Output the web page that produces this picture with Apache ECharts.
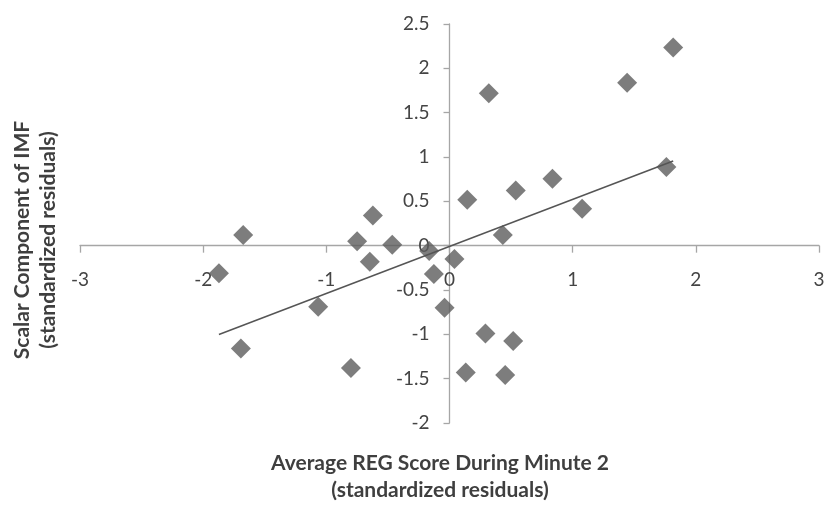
<!DOCTYPE html>
<html>
<head>
<meta charset="utf-8">
<script src="https://cdn.jsdelivr.net/npm/echarts@6/dist/echarts.min.js"></script>
<style>
  html, body { margin: 0; padding: 0; background: #fff; }
  #chart { width: 828px; height: 506px; }
</style>
</head>
<body>
<div id="chart"></div>
<script>
// Average REG score (x) vs scalar IMF component (y), standardized residuals
const regScore = [-1.675, -0.622, -0.75, -0.465, -0.165, -0.647, 0.04, -1.872, -0.127, -1.066,
  -0.04, -1.694, -0.80, 0.292, 0.517, 0.132, 0.452, 0.319, 1.442, 1.816,
  0.144, 0.538, 0.836, 1.077, 1.761, 0.433];
const imfScalar = [0.12, 0.34, 0.05, 0.01, -0.06, -0.18, -0.15, -0.31, -0.32, -0.69,
  -0.70, -1.16, -1.38, -0.99, -1.076, -1.43, -1.46, 1.718, 1.838, 2.234,
  0.517, 0.623, 0.755, 0.415, 0.887, 0.121];
const xTicks = [-3, -2, -1, 0, 1, 2, 3];
const yTicks = [-2, -1.5, -1, -0.5, 0, 0.5, 1, 1.5, 2, 2.5];

const points = regScore.map((x, i) => [x, imfScalar[i]]);

// Least-squares trend line over the range of the data
const n = regScore.length;
const mx = regScore.reduce((a, b) => a + b, 0) / n;
const my = imfScalar.reduce((a, b) => a + b, 0) / n;
let sxy = 0, sxx = 0;
for (let i = 0; i < n; i++) {
  sxy += (regScore[i] - mx) * (imfScalar[i] - my);
  sxx += (regScore[i] - mx) ** 2;
}
const slope = sxy / sxx;
const intercept = my - slope * mx;
const xMin = Math.min(...regScore), xMax = Math.max(...regScore);
const trend = [[xMin, intercept + slope * xMin], [xMax, intercept + slope * xMax]];

const FONT = 'Lato, "Open Sans", sans-serif';
const axisColor = '#a6a6a6';
const GRID = { left: 80, right: 9, top: 24, bottom: 83 };

const chart = echarts.init(document.getElementById('chart'), null, { renderer: 'canvas' });
chart.setOption({
  animation: false,
  backgroundColor: '#ffffff',
  grid: Object.assign({ containLabel: false }, GRID),
  xAxis: {
    type: 'value', position: 'bottom', offset: 0,
    min: xTicks[0], max: xTicks[xTicks.length - 1], interval: 1,
    axisLine: { show: true, onZero: false, lineStyle: { color: axisColor, width: 1.3 } },
    axisTick: { show: true, length: 7, inside: false, lineStyle: { color: axisColor, width: 1.3 } },
    axisLabel: { margin: 25, fontSize: 19, color: '#444444', fontFamily: FONT },
    splitLine: { show: false }
  },
  yAxis: {
    type: 'value', position: 'left', offset: 0,
    min: yTicks[0], max: yTicks[yTicks.length - 1], interval: 0.5,
    axisLine: { show: true, onZero: false, lineStyle: { color: axisColor, width: 1.3 } },
    axisTick: { show: true, length: 6, inside: false, lineStyle: { color: axisColor, width: 1.3 } },
    axisLabel: { margin: 20, fontSize: 19, color: '#444444', fontFamily: FONT },
    splitLine: { show: false }
  },
  graphic: [
    {
      type: 'text', x: 440, y: 450,
      style: {
        text: 'Average REG Score During Minute 2\n(standardized residuals)',
        textAlign: 'center', font: 'bold 21px ' + FONT, fill: '#3f3f3f', lineHeight: 27
      }
    },
    {
      type: 'text', x: 35, y: 240, rotation: Math.PI / 2,
      style: {
        text: 'Scalar Component of IMF\n(standardized residuals)',
        textAlign: 'center', textVerticalAlign: 'middle',
        font: 'bold 21px ' + FONT, fill: '#3f3f3f', lineHeight: 26
      },
      originX: 0, originY: 0
    }
  ],
  series: [
    {
      type: 'line',
      data: trend,
      symbol: 'none',
      lineStyle: { color: '#555555', width: 1.5 },
      silent: true,
      z: 3
    },
    {
      type: 'scatter',
      data: points,
      symbol: 'diamond',
      symbolSize: 20,
      itemStyle: { color: '#5c5c5c' },
      z: 2
    }
  ]
});

// Move both axes (line, ticks, labels) so they cross at the origin
const origin = chart.convertToPixel({ gridIndex: 0 }, [0, 0]);
const bottomEdge = 506 - GRID.bottom;
chart.setOption({
  xAxis: { offset: -(bottomEdge - origin[1]) },
  yAxis: { offset: -(origin[0] - GRID.left) }
});
</script>
</body>
</html>
